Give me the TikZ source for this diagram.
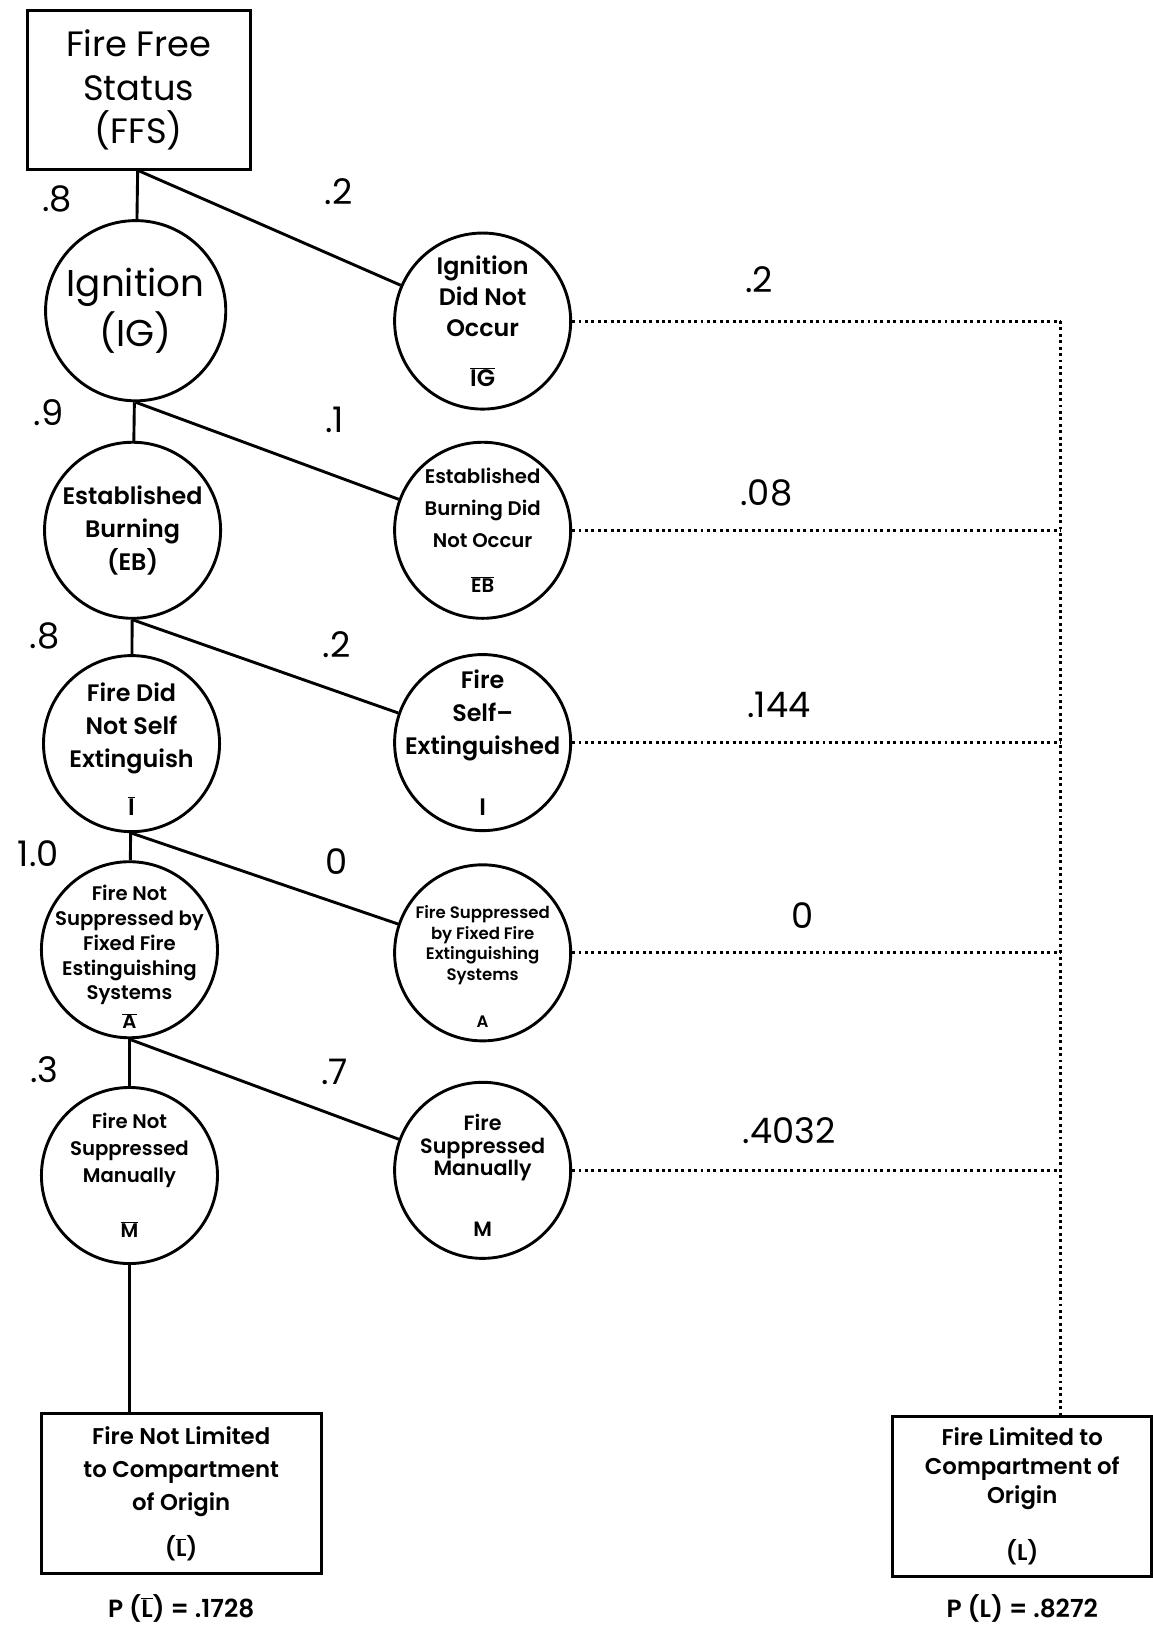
\documentclass[tikz,border=0pt]{standalone}
\usepackage{fontspec}
\setmainfont{Poppins}[BoldFont={Poppins SemiBold}]
\usetikzlibrary{positioning}

\newcommand{\barsym}[1]{$\overline{\mbox{#1}}$}

\tikzset{
  state/.style={circle,draw,line width=2.8pt,minimum size=170pt,inner sep=0pt},
  box/.style={rectangle,draw,line width=2.8pt,align=center,inner sep=0pt},
  txt/.style 2 args={align=center,inner sep=0pt,font=\bfseries\fontsize{#1}{#2}\selectfont},
  bigtxt/.style 2 args={align=center,inner sep=0pt,font=\fontsize{#1}{#2}\selectfont},
  prob/.style={inner sep=0pt,font=\fontsize{34}{34}\selectfont},
  link/.style={line width=2.8pt},
  dots/.style={line width=2.8pt,dash pattern=on 2.8pt off 3.4pt}
}

\begin{document}
\begin{tikzpicture}[x=1pt,y=-1pt]
  \useasboundingbox (0,0) rectangle (1113,1569);

  % Start state
  \node[box,minimum width=215pt,minimum height=153pt,
        font=\fontsize{34}{42}\selectfont] (ffs) at (134,87) {Fire Free\\Status\\(FFS)};

  % Left column of states
  \node[state,minimum size=174pt] (ig) at (131,300) {};
  \node[state] (eb) at (128,512) {};
  \node[state] (nse) at (127,718) {};
  \node[state] (nfx) at (125,917) {};
  \node[state] (nsm) at (125,1135) {};

  % Right column of states
  \node[state] (nig) at (466,310) {};
  \node[state] (neb) at (466,512) {};
  \node[state] (se) at (466,717) {};
  \node[state] (fx) at (466,920) {};
  \node[state] (sm) at (466,1130) {};

  % Texts in the states
  \node[bigtxt={36}{48}] (igt) at (ig) {Ignition\\(IG)};
  \node[txt={23}{32}] (ebt) at (eb) {Established\\Burning\\(EB)};
  \node[txt={23}{32}] (nset) at ([yshift=-5pt]nse) {Fire Did\\Not Self\\Extinguish\\[14pt]\barsym{I}};
  \node[txt={19}{24}] (nfxt) at ([yshift=-7pt]nfx) {Fire Not\\Suppressed by\\Fixed Fire\\Estinguishing\\Systems\\[4pt]\barsym{A}};
  \node[txt={19}{26}] (nsmt) at (nsm) {Fire Not\\Suppressed\\Manually\\[27pt]\barsym{M}};
  \node[txt={23}{30}] (nigt) at (nig) {Ignition\\Did Not\\Occur\\[18pt]\barsym{IG}};
  \node[txt={19}{31}] (nebt) at (neb) {Established\\Burning Did\\Not Occur\\[13pt]\barsym{EB}};
  \node[txt={23}{32}] (set) at (se) {Fire\\Self--\\Extinguished\\[27pt]I};
  \node[txt={16}{20}] (fxt) at ([yshift=-13pt]fx) {Fire Suppressed\\by Fixed Fire\\Extinguishing\\Systems\\[25pt]A};
  \node[txt={20}{22}] (smt) at ([yshift=-5pt]sm) {Fire\\Suppressed\\Manually\\[37pt]M};

  % End states
  \node[box,minimum width=270pt,minimum height=155pt,
        font=\bfseries\fontsize{22}{32}\selectfont] (lnl) at (175,1442)
        {Fire Not Limited\\to Compartment\\of Origin\\[12pt](\barsym{L})};
  \node[box,minimum width=250pt,minimum height=154pt,
        font=\bfseries\fontsize{22}{28}\selectfont] (lim) at (987,1445)
        {Fire Limited to\\Compartment of\\Origin\\[27pt](L)};
  \node[txt={24}{24},below=18pt of lnl] (plnl) {P (\barsym{L}) = .1728};
  \node[txt={24}{24},below=16pt of lim] (plim) {P (L) = .8272};

  % Branches
  \draw[link] (ffs) -- (ig);
  \draw[link] (ffs.south) -- (nig);
  \foreach \a/\b/\c in {ig/eb/neb, eb/nse/se, nse/nfx/fx, nfx/nsm/sm} {
    \draw[link] (\a) -- (\b);
    \draw[link] (\a.south) -- (\c);
  }
  \draw[link] (nsm.south) -- (nsm.south |- lnl.north);

  % Dotted paths to the end state
  \coordinate (sp) at (1024,0);
  \foreach \n in {nig,neb,se,fx,sm}
    \draw[dots] (\n.east) -- (\n.east -| sp);
  \draw[dots] (nig.east -| sp) -- (sp |- lim.north);

  % Branch probabilities
  \foreach \t/\x/\y [count=\k] in {.8/55/192, .2/327/185, .9/47/398, .1/323/405,
      .8/43/614, .2/325/622, 1.0/37/824, 0/325/832, .3/43/1033, .7/323/1035}
    \node[prob] (pr\k) at (\x,\y) {\t};

  % Path probabilities
  \foreach \t/\x/\y [count=\k] in {.2/733/270, .08/740/476, .144/752/681,
      0/775/884, .4032/762/1092}
    \node[prob] (pd\k) at (\x,\y) {\t};
\end{tikzpicture}
\end{document}
